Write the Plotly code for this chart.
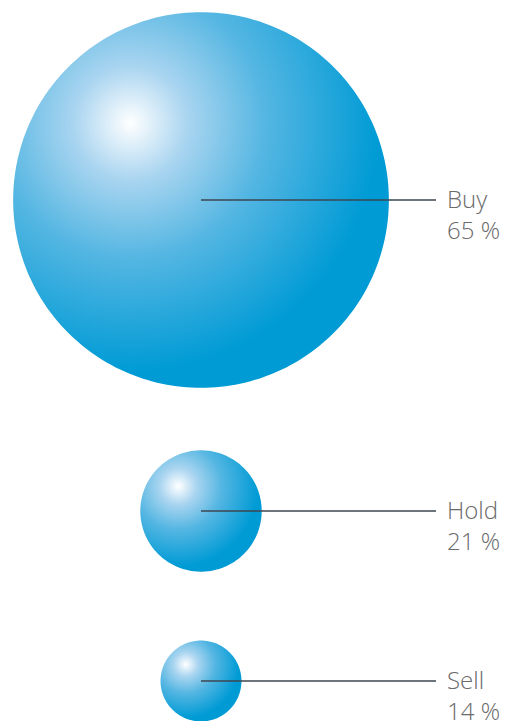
import math
import plotly.graph_objects as go

# ---- data ----
categories = ["Buy", "Hold", "Sell"]
values = [65, 21, 14]
value_labels = [f"{v} %" for v in values]

# ---- layout / style ----
W, H = 513, 721
center_x = 201
center_y = [200, 511, 681]
radius_per_pct = 2.89
line_end_x = 436
label_x = 446
edge_blue = (0, 155, 213)
text_color = "#6a6a6a"
line_color = "#3c4650"

# piecewise radial highlight profile: (radius as fraction of sphere radius, colour)
stops = [(0.0, (255, 255, 255)), (0.3, (170, 213, 240)), (0.72, (84, 182, 226)), (1.32, edge_blue)]


def rgb(c):
    return "rgb(%d,%d,%d)" % tuple(max(0, min(255, round(v))) for v in c)


radii = [v * radius_per_pct for v in values]
hx = [center_x - 0.375 * r for r in radii]
hy = [cy - 0.41 * r for cy, r in zip(center_y, radii)]

fig = go.Figure()

# base spheres
fig.add_trace(go.Scatter(
    x=[center_x] * len(values), y=center_y, mode="markers",
    marker=dict(size=[2 * r + 2 for r in radii], color=rgb(edge_blue), opacity=1, line=dict(width=0)),
    hoverinfo="skip", showlegend=False))

# highlight layers, outermost first; each is a linear radial gradient between two stops
for k in range(len(stops) - 1, 0, -1):
    f_out, c_out = stops[k]
    f_in, c_in = stops[k - 1]
    frac = f_in / f_out
    centre_col = [(ci - frac * co) / (1 - frac) for ci, co in zip(c_in, c_out)]
    fig.add_trace(go.Scatter(
        x=hx, y=hy, mode="markers",
        marker=dict(size=[2 * f_out * r for r in radii], color=rgb(c_out), opacity=1,
                    gradient=dict(type="radial", color=rgb(centre_col)), line=dict(width=0)),
        hoverinfo="skip", showlegend=False))

shapes = []
# white masks with circular holes
bounds = [(-400, 420), (420, 610), (610, 900)]
for (y0, y1), cy, r in zip(bounds, center_y, radii):
    n = 240
    path = f"M -400,{y0} L 800,{y0} L 800,{y1} L -400,{y1} Z "
    pts = []
    for i in range(n):
        t = -2 * math.pi * i / n
        pts.append(f"{center_x + r * math.cos(t):.3f},{cy + r * math.sin(t):.3f}")
    path += "M " + " L ".join(pts) + " Z"
    shapes.append(dict(type="path", path=path, xref="x", yref="y",
                       fillcolor="white", line=dict(width=0), fillrule="evenodd", layer="above"))

# connector lines
for cy in center_y:
    shapes.append(dict(type="line", x0=center_x, x1=line_end_x, y0=cy, y1=cy,
                       xref="x", yref="y", line=dict(color=line_color, width=1.5), layer="above"))

annotations = []
for cat, lab, cy in zip(categories, value_labels, center_y):
    annotations.append(dict(x=label_x - 1, y=cy - 2, text=cat, xref="x", yref="y",
                            xanchor="left", yanchor="middle", showarrow=False,
                            font=dict(family="Open Sans", size=24, color=text_color, weight=300)))
    annotations.append(dict(x=label_x - 1, y=cy + 29, text=lab, xref="x", yref="y",
                            xanchor="left", yanchor="middle", showarrow=False,
                            font=dict(family="Open Sans", size=24, color=text_color, weight=300)))

fig.update_layout(
    width=W, height=H, margin=dict(l=0, r=0, t=0, b=0),
    paper_bgcolor="white", plot_bgcolor="white",
    xaxis=dict(range=[0, W], visible=False, fixedrange=True),
    yaxis=dict(range=[H, 0], visible=False, fixedrange=True),
    shapes=shapes, annotations=annotations, showlegend=False,
)

fig.write_html("out.html", config={"displayModeBar": False},
               post_script="document.body.style.margin='0';document.body.style.overflow='hidden';")
